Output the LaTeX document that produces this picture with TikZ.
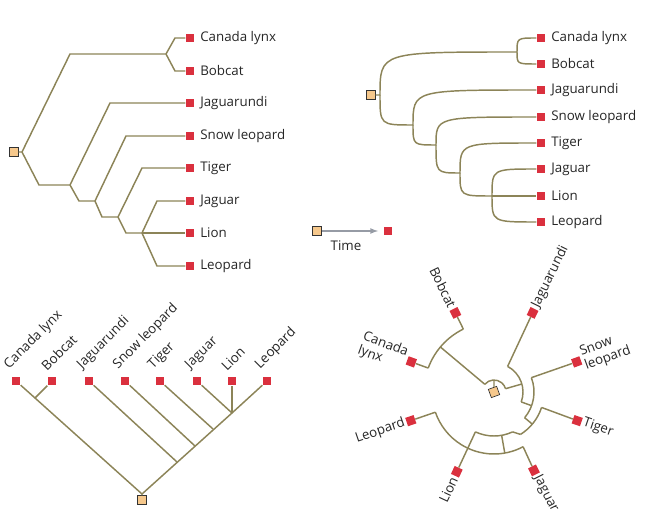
\documentclass[tikz,border=0pt]{standalone}
\usepackage{fontspec}
\setmainfont{Open Sans}
\usetikzlibrary{positioning}
\definecolor{branchcol}{RGB}{140,132,88}
\definecolor{tipred}{RGB}{218,48,62}
\definecolor{rootfill}{RGB}{246,200,140}
\definecolor{timegray}{RGB}{150,155,165}
\begin{document}
\begin{tikzpicture}[
    x=0.75pt,y=-0.75pt,
    tip/.style={rectangle,fill=tipred,minimum size=6.6pt,inner sep=0},
    root/.style={rectangle,draw=black!80,fill=rootfill,line width=0.5pt,minimum size=6.6pt,inner sep=0},
    branch/.style={draw=branchcol,line width=1.1pt},
    lab/.style={font=\fontsize{10}{11}\selectfont,text=black!85,inner sep=1pt}
]
\useasboundingbox (0,0) rectangle (652,516);

% Rectangular tree
\node[root] (ra) at (14,152) {};
\foreach \n/\y/\t in {1/38/Canada lynx,2/71/Bobcat,3/103/Jaguarundi,4/136/Snow leopard,5/168/Tiger,6/201/Jaguar,7/233/Lion,8/266/Leopard}{
  \node[tip] (a\n) at (190,\y) {};
  \node[lab,right=3pt of a\n] {\t};
}
\coordinate (a0) at (22,152);
\draw[branch] (ra) -- (a0) -- (70,54) -- (166,54) -- (175,38) -- (a1);
\draw[branch] (166,54) -- (175,71) -- (a2);
\draw[branch] (a0) -- (39,185) -- (70,185) -- (110,103) -- (a3);
\draw[branch] (70,185) -- (79,201) -- (95,201) -- (126,136) -- (a4);
\draw[branch] (95,201) -- (102,217) -- (118,217) -- (142,168) -- (a5);
\draw[branch] (118,217) -- (126,233) -- (142,233) -- (157,201) -- (a6);
\draw[branch] (142,233) -- (a7);
\draw[branch] (142,233) -- (157,266) -- (a8);

% Curved tree
\node[root] (rb) at (371,95) {};
\foreach \n/\y/\t in {1/38/Canada lynx,2/64/Bobcat,3/90/Jaguarundi,4/117/Snow leopard,5/143/Tiger,6/169/Jaguar,7/196/Lion,8/222/Leopard}{
  \node[tip] (b\n) at (541,\y) {};
  \node[lab,right=3pt of b\n] {\t};
}
\coordinate (b0) at (380,95);
\draw[branch] (rb) -- (b0) .. controls (380,52) .. (517,52);
\draw[branch] (517,52) .. controls (517,38) .. (b1);
\draw[branch] (517,52) .. controls (517,64) .. (b2);
\draw[branch] (b0) .. controls (380,125) .. (413,125) .. controls (413,90) .. (b3);
\draw[branch] (413,125) .. controls (413,145) .. (436,145) .. controls (436,117) .. (b4);
\draw[branch] (436,145) .. controls (436,173) .. (460,173) .. controls (460,143) .. (b5);
\draw[branch] (460,173) .. controls (460,196) .. (492,196) .. controls (492,169) .. (b6);
\draw[branch] (492,196) -- (b7);
\draw[branch] (492,196) .. controls (492,222) .. (b8);

% Time arrow
\node[root] (t0) at (317,231) {};
\node[tip] (t1) at (388,231) {};
\draw[timegray,line width=1pt,-latex] (t0) -- ([xshift=-4pt]t1.west);
\node[lab] (time) at (346,246) {Time};

% Diagonal tree
\node[root] (rc) at (142,500) {};
\foreach \n/\x/\t in {1/16/Canada lynx,2/52/Bobcat,3/89/Jaguarundi,4/125/Snow leopard,5/160/Tiger,6/197/Jaguar,7/232/Lion,8/267/Leopard}{
  \node[tip] (c\n) at (\x,381) {};
  \node[lab,anchor=south west,rotate=45] at ([yshift=2pt]c\n.north west) {\t};
}
\coordinate (c0) at (142,494);
\draw[branch] (rc) -- (c0) -- (35,398) -- (c1);
\draw[branch] (35,398) -- (c2);
\draw[branch] (c0) -- (232,413) -- (c8);
\draw[branch] (177,462) -- (c3);
\draw[branch] (195,446) -- (c4);
\draw[branch] (213,429) -- (c5);
\draw[branch] (232,413) -- (c6);
\draw[branch] (232,413) -- (c7);

% Circular tree
\begin{scope}[shift={(494,392)},x=0.75pt,y=0.75pt]
\node[root,rotate=20] (rd) at (0,0) {};
\foreach \n/\a/\t in {1/160/{Canada\\lynx},2/116/Bobcat,8/-161/Leopard,7/-115/Lion}{
  \node[tip,rotate=\a] (d\n) at (\a:88) {};
  \node[lab,align=left,anchor=east,rotate=\a+180] at (\a:93) {\t};
}
\foreach \n/\a/\t in {3/64/Jaguarundi,4/20/{Snow\\leopard},5/-19/Tiger,6/-63/Jaguar}{
  \node[tip,rotate=\a] (d\n) at (\a:88) {};
  \node[lab,align=left,anchor=west,rotate=\a] at (\a:93) {\t};
}
\draw[branch] (rd) -- (90:12);
\draw[branch] (140:12) arc[start angle=140,end angle=16,radius=12];
\draw[branch] (140:12) -- (140:70);
\draw[branch] (160:70) arc[start angle=160,end angle=116,radius=70];
\draw[branch] (160:70) -- (d1);
\draw[branch] (116:70) -- (d2);
\draw[branch] (16:12) -- (16:29);
\draw[branch] (62:29) arc[start angle=62,end angle=-20,radius=29];
\draw[branch] (62:29) -- (d3);
\draw[branch] (-20:29) -- (-20:40);
\draw[branch] (21:40) arc[start angle=21,end angle=-40,radius=40];
\draw[branch] (21:40) -- (d4);
\draw[branch] (-40:40) -- (-40:50);
\draw[branch] (-18:50) arc[start angle=-18,end angle=-58,radius=50];
\draw[branch] (-18:50) -- (d5);
\draw[branch] (-58:50) -- (-65:44);
\draw[branch] (-65:44) arc[start angle=-65,end angle=-115,radius=44];
\draw[branch] (-115:44) -- (d7);
\draw[branch] (-80:44) -- (-80:62);
\draw[branch] (-62:62) arc[start angle=-62,end angle=-161,radius=62];
\draw[branch] (-62:62) -- (d6);
\draw[branch] (-161:62) -- (d8);
\end{scope}
\end{tikzpicture}
\end{document}
